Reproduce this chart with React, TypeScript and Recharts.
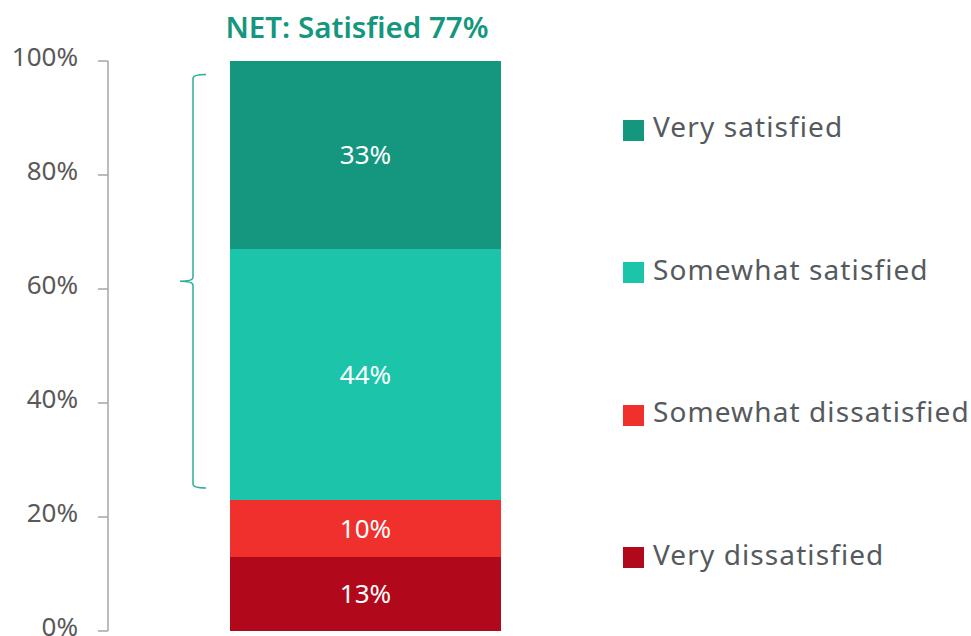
import { BarChart, Bar, XAxis, YAxis, LabelList, Legend, ReferenceArea } from "recharts";

const categories = ["Overall"];
const seriesNames = ["Very dissatisfied", "Somewhat dissatisfied", "Somewhat satisfied", "Very satisfied"];
const seriesKeys = ["veryDis", "someDis", "someSat", "verySat"];
const seriesValues = [13, 10, 44, 33];
const seriesColors = ["#B1081C", "#F0302D", "#1CC5AA", "#14967F"];
const yTicks = [0, 20, 40, 60, 80, 100];

// the "NET: Satisfied" bracket covers both satisfied groups
const netStart = seriesValues[0] + seriesValues[1];
const netValue = seriesValues[2] + seriesValues[3];

const data = categories.map((cat) => {
  const row: Record<string, string | number> = { cat };
  seriesKeys.forEach((k, i) => (row[k] = seriesValues[i]));
  return row;
});

const FONT = "'Noto Sans', sans-serif";
const TEAL = "#15967F";

const NetBrace = (props: any) => {
  const { x, y, height } = props;
  const bx = x + 85;
  const top = y + 13.5;
  const bottom = y + height - 12;
  const mid = (top + bottom) / 2;
  const d = [
    `M ${bx + 13} ${top}`,
    `Q ${bx} ${top} ${bx} ${top + 4}`,
    `L ${bx} ${mid - 4}`,
    `Q ${bx} ${mid} ${bx - 13} ${mid}`,
    `Q ${bx} ${mid} ${bx} ${mid + 4}`,
    `L ${bx} ${bottom - 4}`,
    `Q ${bx} ${bottom} ${bx + 13} ${bottom}`,
  ].join(" ");
  return (
    <g>
      <path d={d} fill="none" stroke="#2BAE95" strokeWidth={1.5} />
      <text
        x={x + 249}
        y={y - 23}
        textAnchor="middle"
        fontFamily={FONT}
        fontWeight={600}
        fontSize={29.5}
        fill={TEAL}
      >
        {`NET: Satisfied ${netValue}%`}
      </text>
    </g>
  );
};

const LegendBox = () => (
  <div style={{ display: "flex", flexDirection: "column" }}>
    {seriesNames
      .map((name, i) => ({ name, color: seriesColors[i] }))
      .reverse()
      .map((item) => (
        <div key={item.name} style={{ height: 142.5, display: "flex", alignItems: "center" }}>
          <span style={{ width: 21, height: 21, background: item.color, marginRight: 9, flex: "none" }} />
          <span
            style={{
              fontFamily: FONT,
              fontSize: 28,
              letterSpacing: 1.1,
              color: "#555A5E",
              whiteSpace: "nowrap",
              position: "relative",
              top: -4,
            }}
          >
            {item.name}
          </span>
        </div>
      ))}
  </div>
);

export default function App() {
  return (
    <div style={{ position: "absolute", left: 0, top: 0, width: 971, height: 636, background: "#fff" }}>
      <BarChart width={971} height={636} data={data} margin={{ top: 61, right: 348, bottom: 5, left: 0 }}>
        <XAxis dataKey="cat" hide />
        <YAxis
          width={108}
          domain={[0, 100]}
          ticks={yTicks}
          interval={0}
          tickFormatter={(v) => `${v}%`}
          tickSize={10}
          tickMargin={20}
          stroke="#A6A6A6"
          strokeWidth={1.5}
          tick={{ fill: "#595959", fontSize: 26, fontFamily: FONT, dy: -4 }}
        />
        <ReferenceArea
          y1={netStart}
          y2={netStart + netValue}
          fill="none"
          stroke="none"
          ifOverflow="visible"
          shape={<NetBrace />}
        />
        {seriesKeys.map((k, i) => (
          <Bar
            key={k}
            dataKey={k}
            name={seriesNames[i]}
            stackId="a"
            fill={seriesColors[i]}
            barSize={271}
            isAnimationActive={false}
          >
            <LabelList
              dataKey={k}
              position="center"
              formatter={(v: any) => `${v}%`}
              fill="#fff"
              fontSize={26}
              fontFamily={FONT}
            />
          </Bar>
        ))}
        <Legend
          layout="vertical"
          align="center"
          verticalAlign="middle"
          wrapperStyle={{ left: 623, top: 59, width: 348 }}
          content={() => <LegendBox />}
        />
      </BarChart>
    </div>
  );
}
